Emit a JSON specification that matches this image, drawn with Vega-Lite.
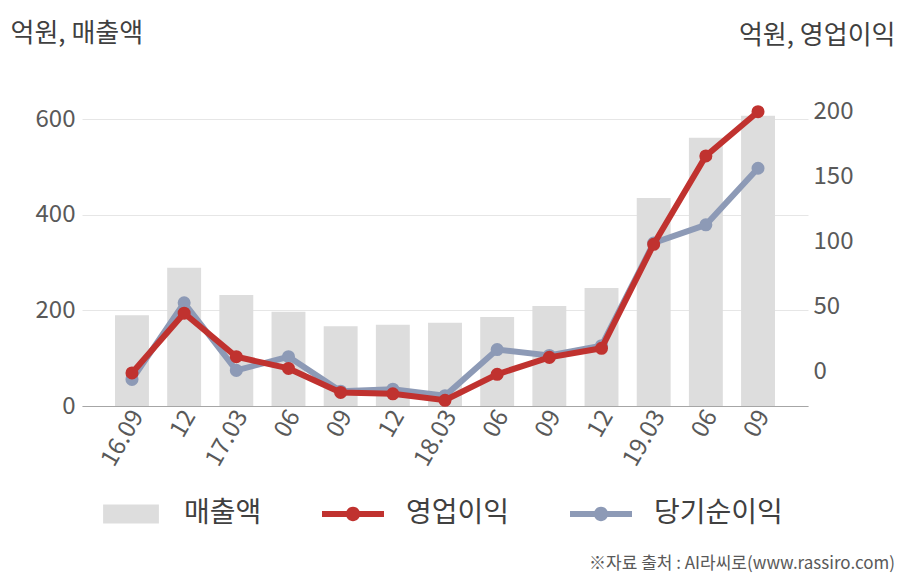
{
  "$schema": "https://vega.github.io/schema/vega-lite/v6.json",
  "width": 726,
  "height": 316,
  "autosize": {"type": "none"},
  "padding": {"left": 82, "top": 90, "right": 100, "bottom": 174},
  "background": "white",
  "config": {
    "font": "Noto Sans CJK KR",
    "view": {"stroke": null},
    "axis": {"labelFont": "Noto Sans CJK KR", "titleFont": "Noto Sans CJK KR"},
    "legend": {"labelFont": "Noto Sans CJK KR"}
  },
  "title": {
    "text": "※자료 출처 : AI라씨로(www.rassiro.com)",
    "orient": "bottom",
    "anchor": "end",
    "fontSize": 17,
    "fontWeight": "normal",
    "color": "#595959",
    "offset": 28
  },
  "data": {
    "values": [
      {"분기": "16.09", "매출액": 190, "영업이익": -1, "당기순이익": -6},
      {"분기": "16.12", "매출액": 289, "영업이익": 45, "당기순이익": 53},
      {"분기": "17.03", "매출액": 232, "영업이익": 11.5, "당기순이익": 1},
      {"분기": "17.06", "매출액": 197, "영업이익": 2.5, "당기순이익": 11.5},
      {"분기": "17.09", "매출액": 167, "영업이익": -16, "당기순이익": -15},
      {"분기": "17.12", "매출액": 170, "영업이익": -17, "당기순이익": -13.5},
      {"분기": "18.03", "매출액": 174, "영업이익": -22, "당기순이익": -18.5},
      {"분기": "18.06", "매출액": 186, "영업이익": -2, "당기순이익": 17},
      {"분기": "18.09", "매출액": 209, "영업이익": 11, "당기순이익": 12.5},
      {"분기": "18.12", "매출액": 247, "영업이익": 18, "당기순이익": 20},
      {"분기": "19.03", "매출액": 435, "영업이익": 98, "당기순이익": 99},
      {"분기": "19.06", "매출액": 561, "영업이익": 166, "당기순이익": 113},
      {"분기": "19.09", "매출액": 607, "영업이익": 200, "당기순이익": 156.5}
    ]
  },
  "encoding": {
    "x": {
      "field": "분기",
      "type": "nominal",
      "sort": null,
      "scale": {"paddingInner": 0.35, "paddingOuter": 0.633},
      "axis": {
        "title": null,
        "labelAngle": -60,
        "labelFontSize": 24,
        "labelColor": "#595959",
        "labelPadding": 6,
        "labelOffset": 6,
        "ticks": false,
        "domainColor": "#a6a6a6",
        "domainWidth": 1.2,
        "labelExpr": "(datum.value == '16.09' || indexof(datum.value, '.03') > 0) ? datum.value : substring(datum.value, 3)"
      }
    }
  },
  "layer": [
    {
      "mark": {"type": "bar"},
      "encoding": {
        "y": {
          "field": "매출액",
          "type": "quantitative",
          "scale": {"domain": [0, 661], "nice": false},
          "axis": {
            "title": "억원, 매출액",
            "titleAngle": 0,
            "titleAlign": "left",
            "titleBaseline": "alphabetic",
            "titleX": -72,
            "titleY": -49,
            "titleFontSize": 26,
            "titleFontWeight": "normal",
            "titleColor": "#404040",
            "values": [0, 200, 400, 600],
            "grid": true,
            "gridColor": "#e6e6e6",
            "gridWidth": 1,
            "ticks": false,
            "domain": false,
            "labelFontSize": 24,
            "labelColor": "#595959",
            "labelPadding": 7
          }
        },
        "color": {
          "datum": "매출액",
          "type": "nominal",
          "scale": {
            "domain": ["매출액", "영업이익", "당기순이익"],
            "range": ["#dddddd", "#c0322f", "#8d9ab6"]
          },
          "legend": {
            "title": null,
            "orient": "none",
            "direction": "horizontal",
            "legendX": 18,
            "legendY": 393,
            "padding": 0,
            "symbolSize": 3844,
            "labelFontSize": 28,
            "labelColor": "#404040",
            "labelOffset": 22,
            "columnPadding": 60,
            "encode": {
              "symbols": {
                "update": {
                  "shape": {"signal": "datum.value == '매출액' ? 'M-0.9,-0.31H0.9V0.31H-0.9Z' : 'M-1,-0.1H1V0.1H-1Z M0.23,0A0.23,0.23 0 1,1 -0.23,0A0.23,0.23 0 1,1 0.23,0Z'"},
                  "fill": {"signal": "datum.value == '매출액' ? '#dddddd' : datum.value == '영업이익' ? '#c0322f' : '#8d9ab6'"},
                  "stroke": {"value": "transparent"},
                  "strokeWidth": {"value": 0},
                  "opacity": {"value": 1}
                }
              }
            }
          }
        }
      }
    },
    {
      "layer": [
        {
          "mark": {"type": "line", "strokeWidth": 6, "point": {"size": 170, "filled": true, "opacity": 1}},
          "encoding": {
            "y": {"field": "당기순이익", "type": "quantitative"},
            "color": {"datum": "당기순이익", "type": "nominal"}
          }
        },
        {
          "mark": {"type": "line", "strokeWidth": 6, "point": {"size": 170, "filled": true, "opacity": 1}},
          "encoding": {
            "y": {
              "field": "영업이익",
              "type": "quantitative",
              "scale": {"domain": [-26.4, 216.7], "nice": false, "zero": false},
              "axis": {
                "orient": "right",
                "title": "억원, 영업이익",
                "titleAngle": 0,
                "titleAlign": "right",
                "titleBaseline": "alphabetic",
                "titleX": 87,
                "titleY": -47,
                "titleFontSize": 26,
                "titleFontWeight": "normal",
                "titleColor": "#404040",
                "values": [0, 50, 100, 150, 200],
                "grid": false,
                "ticks": false,
                "domain": false,
                "labelFontSize": 24,
                "labelColor": "#595959",
                "labelPadding": 5
              }
            },
            "color": {"datum": "영업이익", "type": "nominal"}
          }
        }
      ]
    }
  ],
  "resolve": {"scale": {"y": "independent"}, "axis": {"y": "independent"}}
}
